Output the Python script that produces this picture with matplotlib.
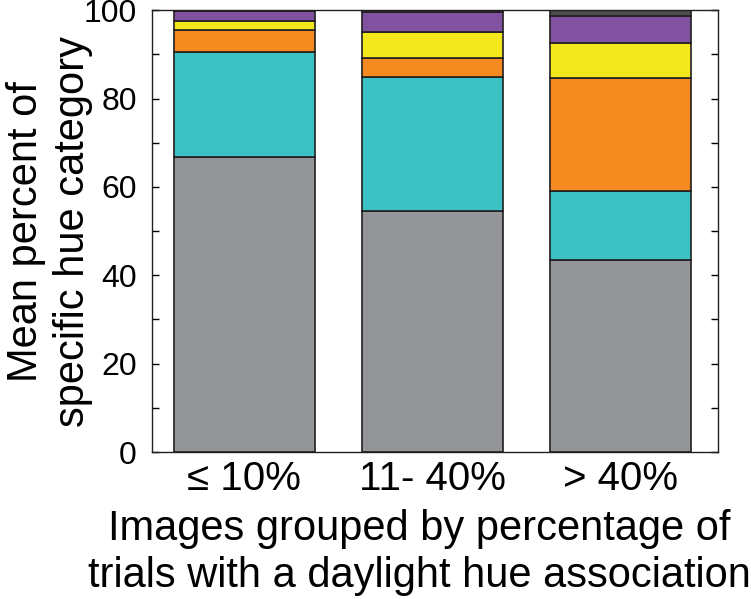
import numpy as np
import matplotlib.pyplot as plt

plt.rcParams['font.family'] = ['Liberation Sans', 'DejaVu Sans']

groups = ['\u2264 10%', '11- 40%', '> 40%']
gray = [66.7, 54.5, 43.4]
cyan = [23.8, 30.3, 15.6]
orange = [5.0, 4.3, 25.6]
yellow = [2.0, 5.9, 7.9]
purple = [2.3, 4.5, 6.1]
darkgray = [0.2, 0.5, 1.4]

series = [gray, cyan, orange, yellow, purple, darkgray]
colors = ['#939598', '#3cc1c5', '#f58a21', '#f2e81b', '#8052a0', '#4d4d4f']

fig = plt.figure(figsize=(7.51, 5.99), dpi=100)
ax = fig.add_axes([0.2024, 0.2454, 0.7536, 0.7376])

x = np.arange(1, len(groups) + 1)
bottom = np.zeros(len(groups))
for vals, c in zip(series, colors):
    ax.bar(x, vals, width=0.75, bottom=bottom, color=c, edgecolor='#231f20', linewidth=1.2)
    bottom += np.array(vals)

ax.set_xlim(0.51, 3.52)
ax.set_ylim(0, 100)
ax.set_yticks(np.arange(0, 101, 20))
ax.set_yticks(np.arange(10, 100, 20), minor=True)
ax.set_xticks(x)
ax.set_xticklabels(groups)
ax.tick_params(axis='y', which='both', direction='in', right=True, length=5, width=1, labelsize=23, pad=11)
ax.tick_params(axis='x', length=0, labelsize=29, pad=6)
for s in ax.spines.values():
    s.set_linewidth(1.0)
    s.set_color('#231f20')

ax.set_ylabel('Mean percent of\nspecific hue category', fontsize=30, linespacing=1.22)
ax.yaxis.set_label_coords(-0.105, 0.5)
ax.set_xlabel('Images grouped by percentage of\ntrials with a daylight hue association', fontsize=30, linespacing=1.22)
ax.xaxis.set_label_coords(0.473, -0.13)

fig.savefig('out.png', dpi=100)
